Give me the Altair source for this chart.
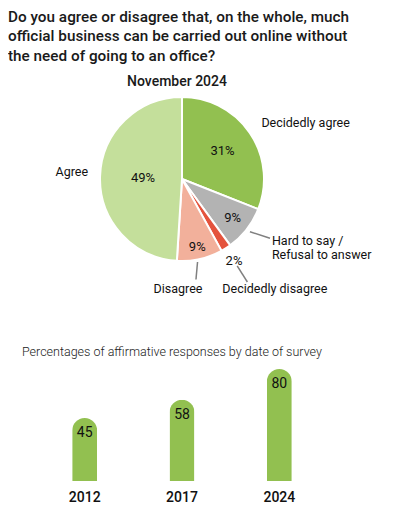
import math
import altair as alt
import pandas as pd

# ---------------- data ----------------
title_text = ("Do you agree or disagree that, on the whole, much\n"
              "official business can be carried out online without\n"
              "the need of going to an office?")
pie_title = "November 2024"
categories = ["Decidedly agree", "Hard to say / Refusal to answer",
              "Decidedly disagree", "Disagree", "Agree"]
cat_labels = ["Decidedly agree", "Hard to say /\nRefusal to answer",
              "Decidedly disagree", "Disagree", "Agree"]
shares = [31, 9, 2, 9, 49]
share_text = ["31%", "9%", "2%", "9%", "49%"]

bar_title = "Percentages of affirmative responses by date of survey"
years = ["2012", "2017", "2024"]
affirmative = [45, 58, 80]

# ---------------- style / layout ----------------
FONT = "Roboto"
FONT_MED = "'Roboto Medium', Roboto"
colors = ["#92c050", "#b3b3b3", "#e4533d", "#f2b09b", "#c4df9b"]
BAR_COLOR = "#92c050"
CX, CY, R = 174, 171, 82
pct_r = [49, 64, 97, 70, 39]
lab_r = [96, 110, 122, 103, 95]
lab_dx = [0, 3, -25, -2, 1]
lab_dy = [-2, -5, 7, 9, -4]
lab_align = ["left", "left", "left", "right", "right"]
# leader lines: slice index, inner radius, outer radius, tweaks
lead_idx = [1, 2, 3]
lead_r1 = [86, 103, 85]
lead_r2 = [100, 122, 103]
lead_dx1 = [0, 0, -3]
lead_dx2 = [9, 0, -8.5]
lead_dy2 = [-2, 0, 0]

total = sum(shares)
mids = []
c = 0
for v in shares:
    mids.append((c + v / 2) / total * 2 * math.pi)
    c += v


def polar(r, a):
    return CX + r * math.sin(a), CY - r * math.cos(a)


pie_df = pd.DataFrame({
    "cat": categories,
    "share": shares,
    "idx": list(range(len(shares))),
    "pct": share_text,
    "px": [polar(pct_r[i], mids[i])[0] for i in range(5)],
    "py": [polar(pct_r[i], mids[i])[1] for i in range(5)],
    "lab": cat_labels,
    "lx": [polar(lab_r[i], mids[i])[0] + lab_dx[i] for i in range(5)],
    "ly": [polar(lab_r[i], mids[i])[1] + lab_dy[i] for i in range(5)],
    "align": lab_align,
})

lead_rows = []
for k, i in enumerate(lead_idx):
    x1, y1 = polar(lead_r1[k], mids[i])
    x2, y2 = polar(lead_r2[k], mids[i])
    lead_rows.append({"x1": x1 + lead_dx1[k], "y1": y1,
                      "x2": x2 + lead_dx2[k], "y2": y2 + lead_dy2[k]})
lead_df = pd.DataFrame(lead_rows)

bar_df = pd.DataFrame({"year": years, "v": affirmative})

PX = dict(scale=None)

title = alt.Chart(pd.DataFrame({"t": [title_text]})).mark_text(
    font=FONT_MED, fontSize=15.3, color="#1a1a1a", align="left",
    baseline="alphabetic", lineBreak="\n", lineHeight=19.5
).encode(x=alt.value(0), y=alt.value(13.5), text="t:N")

ptitle = alt.Chart(pd.DataFrame({"t": [pie_title]})).mark_text(
    font=FONT_MED, fontSize=14, color="#1a1a1a", align="center",
    baseline="alphabetic"
).encode(x=alt.value(169), y=alt.value(77.5), text="t:N")

arcs = alt.Chart(pie_df).mark_arc(
    outerRadius=R, stroke="white", strokeWidth=2
).encode(
    theta=alt.Theta("share:Q", stack=True),
    order=alt.Order("idx:Q"),
    color=alt.Color("cat:N", scale=alt.Scale(domain=categories, range=colors), legend=None),
    x=alt.value(CX), y=alt.value(CY),
)

pct = alt.Chart(pie_df).mark_text(
    font=FONT, fontSize=13, color="#111111", align="center", baseline="middle"
).encode(x=alt.X("px:Q", **PX), y=alt.Y("py:Q", **PX), text="pct:N")

leads = alt.Chart(lead_df).mark_rule(color="#808080", strokeWidth=1.5).encode(
    x=alt.X("x1:Q", **PX), y=alt.Y("y1:Q", **PX),
    x2=alt.X2("x2:Q"), y2=alt.Y2("y2:Q"),
)

lab_left = alt.Chart(pie_df).transform_filter(alt.datum.align == "left").mark_text(
    font=FONT, fontSize=12.5, color="#111111", align="left", baseline="middle",
    lineBreak="\n", lineHeight=13.5
).encode(x=alt.X("lx:Q", **PX), y=alt.Y("ly:Q", **PX), text="lab:N")

lab_right = alt.Chart(pie_df).transform_filter(alt.datum.align == "right").mark_text(
    font=FONT, fontSize=12.5, color="#111111", align="right", baseline="middle",
    lineBreak="\n", lineHeight=13.5
).encode(x=alt.X("lx:Q", **PX), y=alt.Y("ly:Q", **PX), text="lab:N")

btitle = alt.Chart(pd.DataFrame({"t": [bar_title]})).mark_text(
    font=FONT, fontSize=12.5, fontWeight=300, color="#222222", align="left",
    baseline="middle"
).encode(x=alt.value(14), y=alt.value(344), text="t:N")

top = alt.layer(title, ptitle, arcs, leads, pct, lab_left, lab_right, btitle)

xs = alt.Scale(domain=years, range=[28, 320], paddingInner=0, paddingOuter=0)
ys = alt.Scale(domain=[0, 100], range=[473, 333], nice=False, zero=True)

bars = alt.Chart(bar_df).mark_bar(
    size=25, cornerRadiusTopLeft=12.5, cornerRadiusTopRight=12.5, color=BAR_COLOR
).encode(
    x=alt.X("year:N", scale=xs, axis=None),
    y=alt.Y("v:Q", scale=ys, axis=None),
)
bar_lab = alt.Chart(bar_df).mark_text(
    font=FONT, fontSize=14, color="#111111", baseline="middle", dy=15
).encode(
    x=alt.X("year:N", scale=xs, axis=None),
    y=alt.Y("v:Q", scale=ys, axis=None),
    text="v:Q",
)
year_lab = alt.Chart(bar_df).mark_text(
    font=FONT_MED, fontSize=14, color="#111111", baseline="alphabetic"
).encode(
    x=alt.X("year:N", scale=xs, axis=None),
    y=alt.value(494),
    text="year:N",
)
bottom = alt.layer(bars, bar_lab, year_lab)

chart = alt.layer(top, bottom).resolve_scale(
    x="independent", y="independent"
).properties(
    width=384, height=497, padding=0, autosize="none", background="white"
).configure_view(stroke=None)

chart.save("out.html", embed_options={"renderer": "svg", "actions": False})
